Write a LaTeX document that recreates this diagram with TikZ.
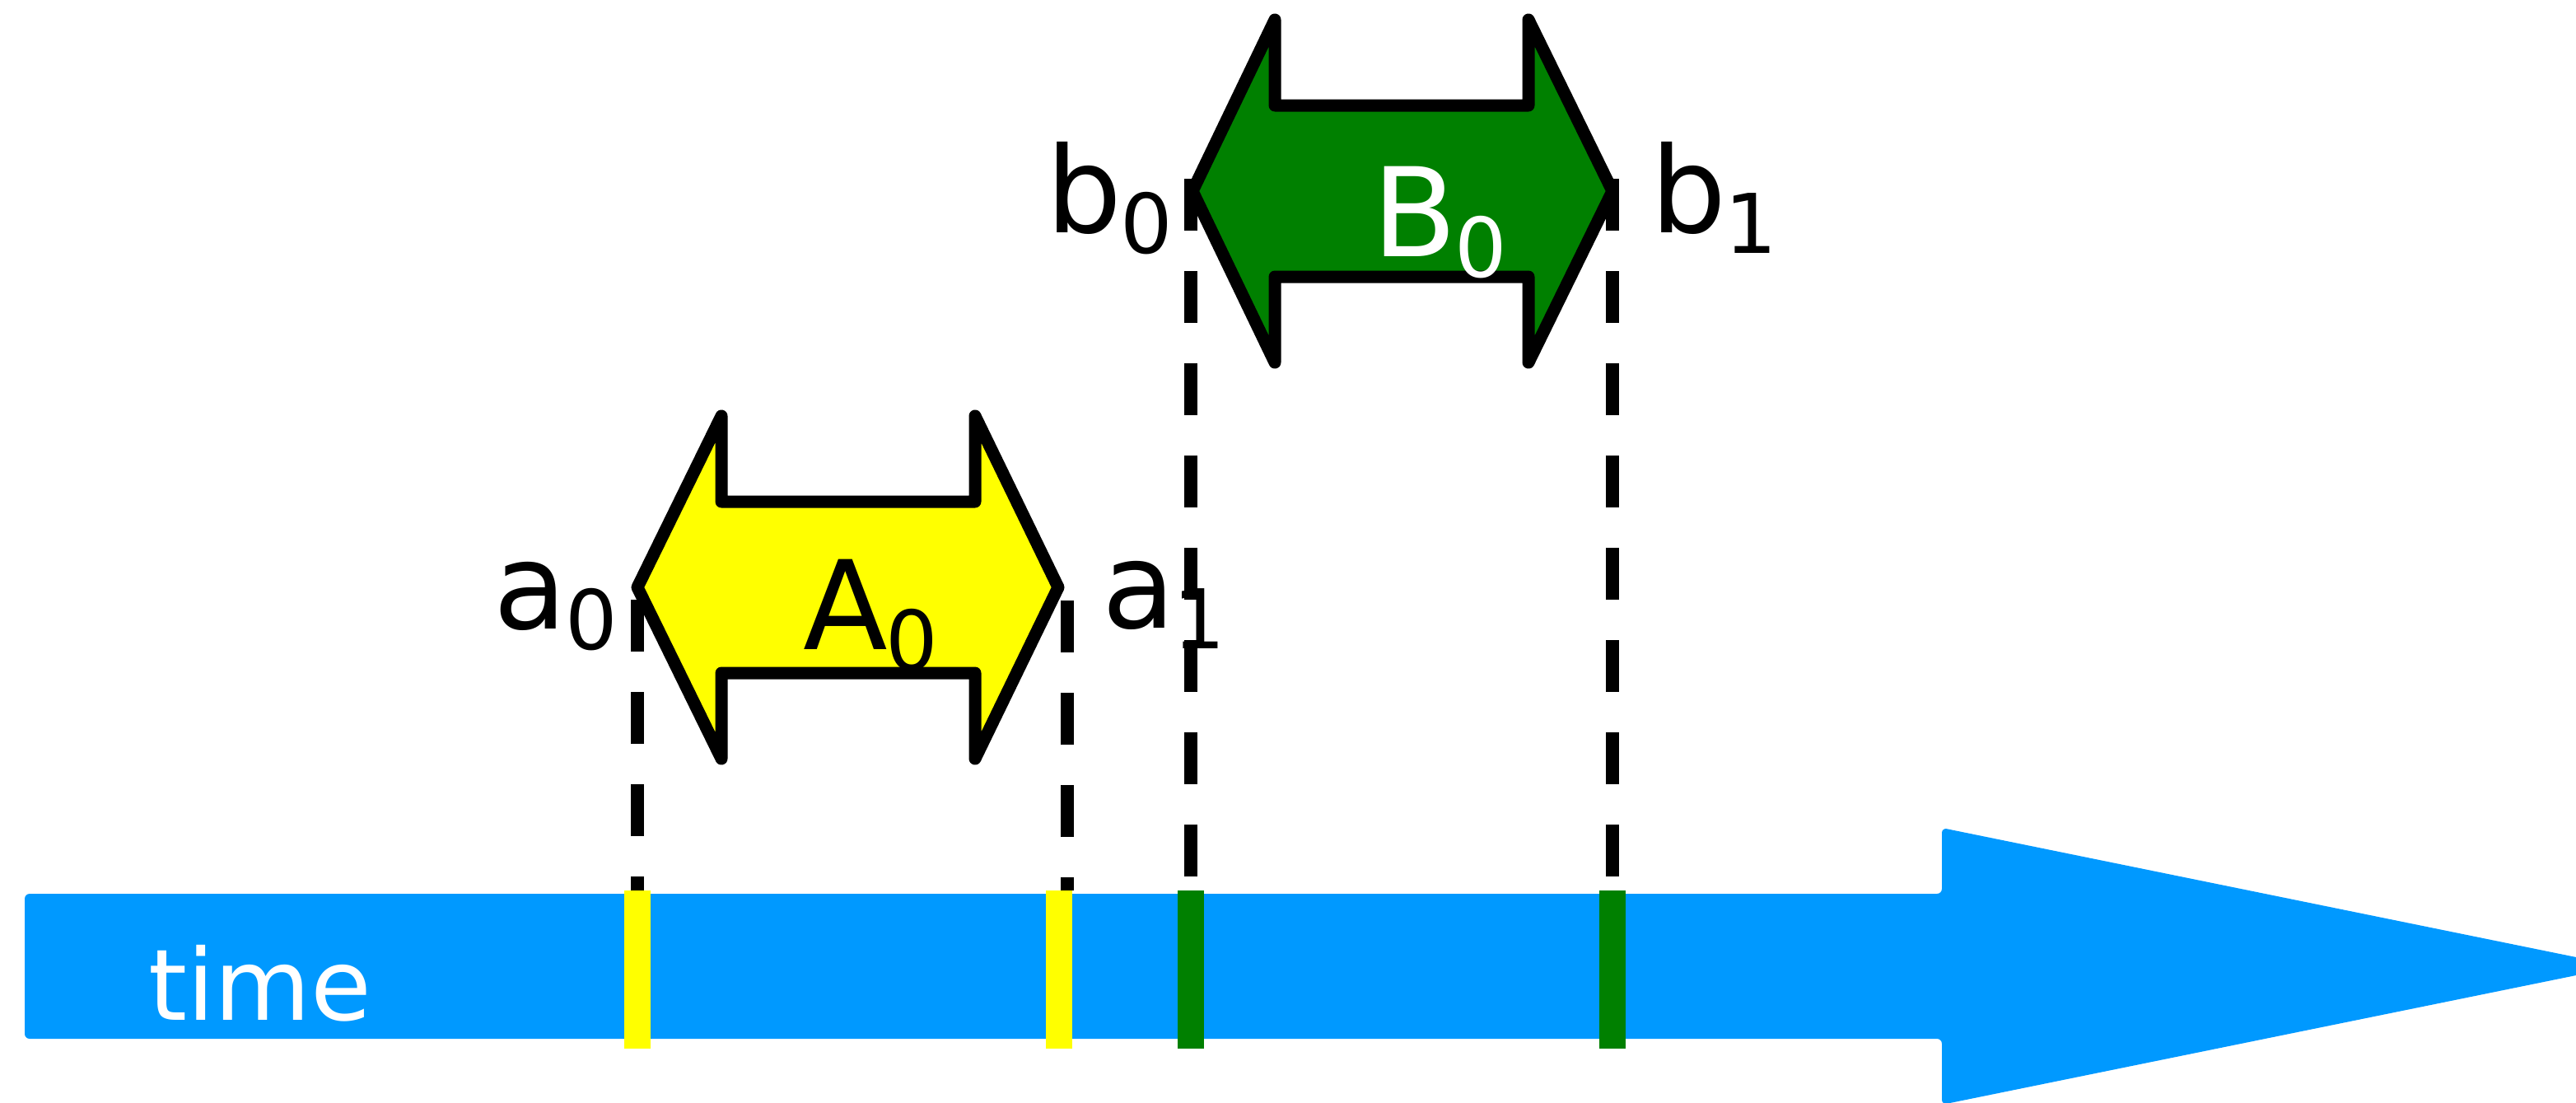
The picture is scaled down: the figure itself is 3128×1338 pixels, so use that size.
\documentclass[tikz,border=0pt]{standalone}
\usepackage{fontspec}
\setmainfont{DejaVu Sans}
\definecolor{tblue}{RGB}{0,153,255}
\definecolor{tgreen}{RGB}{0,128,0}
\definecolor{tyellow}{RGB}{255,255,0}
\newcommand\lowsub[1]{\kern-2pt\raisebox{-25pt}{\fontsize{100}{100}\selectfont #1}}
\tikzset{
  lbl/.style={inner sep=0pt, outer sep=0pt, font=\fontsize{145}{150}\selectfont},
  biglbl/.style={inner sep=0pt, outer sep=0pt, font=\fontsize{150}{155}\selectfont},
  tickbar/.style={inner sep=0pt, outer sep=0pt, minimum width=32pt, minimum height=192pt, draw=none},
  dblarrow/.style={draw=black, line width=15pt, line join=round},
  dashln/.style={draw=black, line width=16pt, dash pattern=on 63pt off 49pt}
}
\begin{document}
\begin{tikzpicture}[x=1pt, y=-1pt]
\useasboundingbox (0,0) rectangle (3128,1338);
\clip (0,0) rectangle (3128,1338);
% time arrow
\fill[tblue, rounded corners=6pt] (30,1085) -- (2358,1085) -- (2358,1005) -- (3182,1173) -- (2358,1341) -- (2358,1261) -- (30,1261) -- cycle;
\node[font=\fontsize{120}{125}\selectfont, text=white, inner sep=0pt, anchor=base] (time) at (316,1238) {time};
% tick bars
\node[tickbar, fill=tyellow] (ya) at (774,1177) {};
\node[tickbar, fill=tyellow] (yb) at (1286,1177) {};
\node[tickbar, fill=tgreen] (ga) at (1446,1177) {};
\node[tickbar, fill=tgreen] (gb) at (1958,1177) {};
% double arrows
\draw[dblarrow, fill=tyellow] (774,713) -- (876,505) -- (876,609) -- (1184,609) -- (1184,505) -- (1285,713) -- (1184,921) -- (1184,817) -- (876,817) -- (876,921) -- cycle;
\draw[dblarrow, fill=tgreen] (1448,232) -- (1548,24) -- (1548,128) -- (1856,128) -- (1856,24) -- (1958,232) -- (1856,440) -- (1856,336) -- (1548,336) -- (1548,440) -- cycle;
% labels
\node[biglbl, anchor=base west] (A0) at (975,788) {A\lowsub{0}};
\node[biglbl, anchor=base west, text=white] (B0) at (1666,311) {B\lowsub{0}};
\node[lbl, anchor=base east] (a0) at (750,763) {a\lowsub{0}};
\node[lbl, anchor=base west] (a1) at (1338,762) {a\lowsub{1}};
\node[lbl, anchor=base east] (b0) at (1424,282) {b\lowsub{0}};
\node[lbl, anchor=base west] (b1) at (2004,282) {b\lowsub{1}};
% dashed guide lines
\coordinate (Al) at (774,728);
\coordinate (Ar) at (1296,729);
\coordinate (Bl) at (1446,217);
\coordinate (Br) at (1958,217);
\draw[dashln] (Al) -- (Al |- ya.north);
\draw[dashln] (Ar) -- (Ar |- yb.north);
\draw[dashln] (Bl) -- (Bl |- ga.north);
\draw[dashln] (Br) -- (Br |- gb.north);
\end{tikzpicture}
\end{document}
